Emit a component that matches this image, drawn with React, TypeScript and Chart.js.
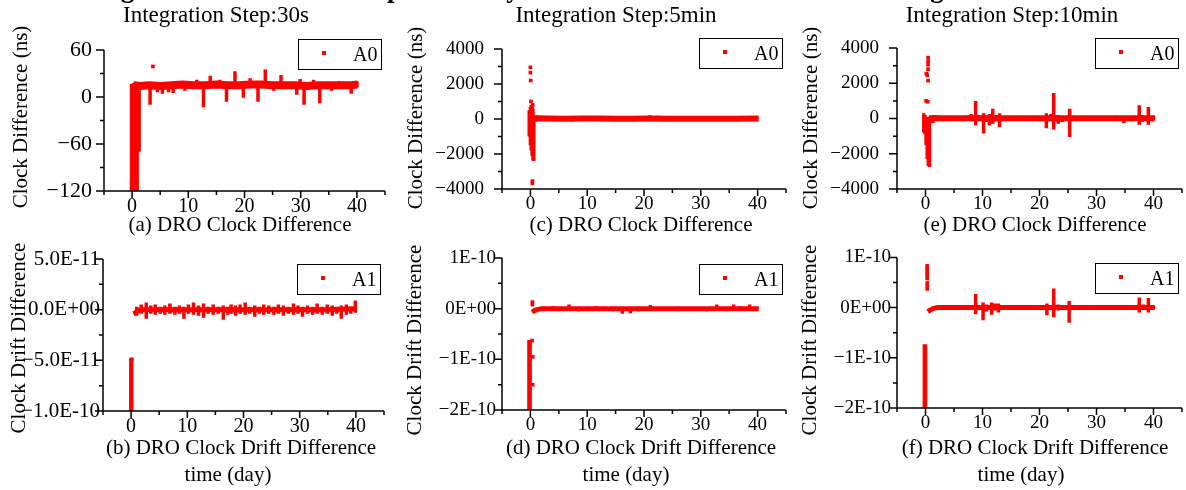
import React, { useEffect, useRef } from 'react';
import { Chart, registerables } from 'chart.js';

Chart.register(...registerables);

const FONT = "'Liberation Serif', 'Times New Roman', Times, serif";
const RED = '#ff0000';

// ---------- shared x axis (time in days) ----------
const xMin = -5;
const xMax = 45;
const xMajor = [0, 10, 20, 30, 40];
const xMinor = [-5, 5, 15, 25, 35, 45];
const xLabels = ['0', '10', '20', '30', '40'];

// ---------- texts ----------
const mainTitle = 'Clock Integration Results in Comparisons by Different Orbit Determination Integration Methods';
const stepTitles = ['Integration Step:30s', 'Integration Step:5min', 'Integration Step:10min'];
const topCaptions = ['(a) DRO Clock Difference', '(c) DRO Clock Difference', '(e) DRO Clock Difference'];
const bottomCaptions = ['(b) DRO Clock Drift Difference', '(d) DRO Clock Drift Difference', '(f) DRO Clock Drift Difference'];
const topYTitle = 'Clock Difference (ns)';
const bottomYTitle = 'Clock Drift Difference';
const xTitle = 'time (day)';
const topLegend = 'A0';
const bottomLegend = 'A1';

// ---------- panel (a): clock difference, step 30 s ----------
const aYMajor = [-120, -60, 0, 60];
const aYMinor = [-90, -30, 30];
const aYLabels = ['\u2212120', '\u221260', '0', '60'];
const aBandX = [0.2, 1.5, 3, 5, 7, 9, 11, 13, 15, 17, 19, 21, 23, 25, 27, 29, 31, 33, 35, 37, 39, 40.1];
const aBandY = [15, 14, 15, 14, 15, 16, 15, 15, 16, 15, 15, 16, 16, 15, 15, 15, 14, 15, 15, 15, 15, 16];
const aSpikeX = [-0.1, 0.1, 0.3, 0.5, 0.7, 0.9, 1.25, 3.2, 4.5, 5.4, 6.5, 7.3, 9.4, 11.5, 12.7, 13.9, 15.6, 16.8, 18.3, 19.8, 21.0, 22.4, 23.7, 25.2, 26.5, 29.3, 29.9, 30.6, 32.3, 33.4, 35.5, 36.8, 39.0, 40.0];
const aSpikeLo = [-125, -125, -125, -125, -125, -125, -70, -10, 6, 4, 6, 5, 8, 15, -13, 15, 15, -6, 15, -1, 15, -6, 15, 8, 15, 3, 15, -10, 15, -8, 8, 15, 4, 12];
const aSpikeHi = [17, 17, 18, 16, 16, 15, 12, 15, 15, 15, 15, 15, 15, 22, 15, 27, 22, 15, 33, 15, 24, 15, 35, 15, 28, 15, 23, 15, 22, 15, 15, 20, 15, 20];
const aDotX = [3.7];
const aDotY = [39];

// ---------- panel (c): clock difference, step 5 min ----------
const cYMajor = [-4000, -2000, 0, 2000, 4000];
const cYMinor = [-3000, -1000, 1000, 3000];
const cYLabels = ['\u22124000', '\u22122000', '0', '2000', '4000'];
const cBandX = [0.5, 1.5, 3, 6, 9, 12, 15, 18, 21, 24, 27, 30, 33, 36, 40.2];
const cBandY = [30, 40, 30, 20, 30, 30, 20, 20, 30, 20, 20, 20, 20, 20, 30];
const cSpikeX = [-0.2, 0.0, 0.15, 0.3, 0.45, 0.6, 1.0, 1.5, 3.8, 4.5, 7.3, 9.8, 10.3, 12.8, 21.0, 22.5, 25.2, 33.5, 37.5, 39.0];
const cSpikeLo = [-1000, -1500, -1800, -2100, -2350, -2400, -150, -100, -60, -60, -140, -60, -60, -60, -60, -60, -80, -60, -60, -60];
const cSpikeHi = [500, 700, 800, 700, 600, 200, 200, 180, 160, 140, 110, 160, 140, 170, 220, 190, 90, 110, 150, 120];
const cDotX = [0.0, 0.0, 0.05, 0.1, 0.4, 0.35, 0.35];
const cDotY = [2950, 2650, 2200, 1000, 800, -3550, -3680];

// ---------- panel (e): clock difference, step 10 min ----------
const eYMajor = [-4000, -2000, 0, 2000, 4000];
const eYMinor = [-3000, -1000, 1000, 3000];
const eYLabels = ['\u22124000', '\u22122000', '0', '2000', '4000'];
const eBandX = [0.6, 1.5, 3, 6, 9, 12, 15, 18, 21, 24, 27, 30, 33, 36, 40.2];
const eBandY = [20, 30, 20, 20, 20, 20, 20, 20, 20, 20, 20, 20, 20, 20, 20];
const eSpikeX = [-0.3, -0.1, 0.1, 0.3, 0.5, 0.7, 1.3, 4.0, 6.0, 7.2, 8.0, 8.8, 9.3, 10.2, 10.8, 11.2, 11.8, 12.5, 13.0, 19.6, 20.0, 21.2, 22.0, 22.5, 23.3, 24.0, 25.3, 26.0, 30.5, 33.5, 34.8, 36.0, 37.5, 38.0, 39.1, 40.0];
const eSpikeLo = [-800, -900, -1500, -2300, -2700, -2750, -250, -60, -100, -100, -150, -380, -100, -850, -200, -400, -300, -150, -500, -100, -150, -550, -150, -620, -300, -200, -1050, -100, -100, -100, -250, -150, -350, -200, -350, -100];
const eSpikeHi = [300, 200, 100, 100, 100, 100, 150, 80, 120, 150, 250, 1000, 200, 300, 150, 250, 550, 200, 300, 150, 100, 300, 250, 1450, 200, 150, 550, 100, 100, 150, 100, 150, 750, 200, 650, 150];
const eDotX = [0.45, 0.45, 0.45, 0.45, 0.15, 0.3, 0.45, 0.1, 0.4];
const eDotY = [3450, 3250, 3050, 2800, 2550, 2450, 2150, 1000, 950];

// ---------- panel (b): clock drift difference, step 30 s ----------
const bYMajor = [-1e-10, -5e-11, 0, 5e-11];
const bYMinor = [-7.5e-11, -2.5e-11, 2.5e-11];
const bYLabels = ['\u22121.0E-10', '\u22125.0E-11', '0.0E+00', '5.0E-11'];
const bBandX = [0.4, 0.8, 1.2, 2, 5, 10, 15, 20, 25, 30, 35, 40];
const bBandY = [-4e-12, -3e-12, -1e-12, 0, 0, 0, 0, 0, 0, 0, 0, 1e-12];
const bSpikeX = [-0.05, 0.12, 1.0, 1.8, 2.7, 3.5, 4.3, 5.2, 6.0, 6.9, 7.8, 8.6, 9.4, 10.2, 11.1, 12.0, 12.9, 13.7, 14.6, 15.5, 16.4, 17.2, 17.8, 18.6, 19.4, 20.3, 21.1, 22.0, 22.8, 23.6, 24.5, 25.4, 26.2, 27.1, 28.0, 28.9, 29.7, 30.5, 31.4, 32.3, 33.1, 34.0, 34.9, 35.8, 36.6, 37.4, 38.3, 39.1, 39.9];
const bSpikeLo = [-1.05e-10, -1.05e-10, -6e-12, -4e-12, -9e-12, -4e-12, -5e-12, -4e-12, -5e-12, -4e-12, -5e-12, -4e-12, -9e-12, -4e-12, -5e-12, -6e-12, -8e-12, -4e-12, -5e-12, -4e-12, -1e-11, -5e-12, -4e-12, -6e-12, -4e-12, -5e-12, -4e-12, -7e-12, -4e-12, -5e-12, -4e-12, -5e-12, -4e-12, -6e-12, -4e-12, -5e-12, -4e-12, -7e-12, -4e-12, -5e-12, -4e-12, -5e-12, -4e-12, -6e-12, -4e-12, -9e-12, -5e-12, -4e-12, -3e-12];
const bSpikeHi = [-4.8e-11, -4.8e-11, 3e-12, 5e-12, 7e-12, 4e-12, 5e-12, 3e-12, 4e-12, 6e-12, 3e-12, 4e-12, 3e-12, 5e-12, 7e-12, 4e-12, 6e-12, 3e-12, 5e-12, 3e-12, 4e-12, 3e-12, 5e-12, 4e-12, 5e-12, 7e-12, 3e-12, 4e-12, 3e-12, 5e-12, 4e-12, 3e-12, 5e-12, 4e-12, 3e-12, 6e-12, 4e-12, 3e-12, 4e-12, 3e-12, 6e-12, 3e-12, 5e-12, 4e-12, 3e-12, 4e-12, 5e-12, 3e-12, 9e-12];
const bDotX = [0.1];
const bDotY = [-4.9e-11];

// ---------- panel (d): clock drift difference, step 5 min ----------
const dYMajor = [-2e-10, -1e-10, 0, 1e-10];
const dYMinor = [-1.5e-10, -5e-11, 5e-11];
const dYLabels = ['\u22122E-10', '\u22121E-10', '0E+00', '1E-10'];
const dBandX = [0.3, 0.7, 1.2, 2, 5, 10, 15, 20, 25, 30, 35, 40.2];
const dBandY = [-7e-12, -4e-12, -2e-12, 0, 0, 0, 0, 0, 0, 0, 0, 0];
const dSpikeX = [-0.25, -0.05, 2.5, 4.0, 5.5, 6.8, 8.5, 10.0, 11.5, 13.0, 14.5, 16.2, 17.6, 19.0, 21.1, 22.5, 24.0, 26.0, 28.5, 31.0, 32.8, 34.5, 35.8, 37.0, 38.6, 39.8];
const dSpikeLo = [-2.05e-10, -2.05e-10, -4e-12, -3e-12, -4e-12, -3e-12, -5e-12, -4e-12, -3e-12, -4e-12, -5e-12, -1e-11, -9e-12, -5e-12, -4e-12, -4e-12, -4e-12, -4e-12, -4e-12, -5e-12, -4e-12, -3e-12, -3e-12, -4e-12, -3e-12, -3e-12];
const dSpikeHi = [-6.2e-11, -6.2e-11, 4e-12, 5e-12, 3e-12, 8e-12, 3e-12, 4e-12, 5e-12, 4e-12, 3e-12, 3e-12, 3e-12, 4e-12, 7e-12, 4e-12, 4e-12, 4e-12, 3e-12, 3e-12, 8e-12, 4e-12, 8e-12, 5e-12, 8e-12, 4e-12];
const dDotX = [0.3, 0.4, 0.4, 0.35, 0.35];
const dDotY = [-6.3e-11, -9.5e-11, -1.5e-10, 1.3e-11, 8e-12];

// ---------- panel (f): clock drift difference, step 10 min ----------
const fYMajor = [-2e-10, -1e-10, 0, 1e-10];
const fYMinor = [-1.5e-10, -5e-11, 5e-11];
const fYLabels = ['\u22122E-10', '\u22121E-10', '0E+00', '1E-10'];
const fBandX = [0.4, 0.8, 1.3, 2, 5, 10, 15, 20, 25, 30, 35, 40.2];
const fBandY = [-8e-12, -5e-12, -2e-12, 0, 0, 0, 0, 0, 0, 0, 0, 0];
const fSpikeX = [-0.2, 0.0, 4.0, 6.5, 7.8, 8.8, 9.4, 10.1, 10.7, 11.6, 12.2, 12.8, 17.9, 19.8, 21.3, 22.5, 23.3, 25.2, 28.7, 33.5, 35.2, 36.4, 37.5, 38.2, 39.1, 40.0];
const fSpikeLo = [-2.05e-10, -2.05e-10, -3e-12, -2e-12, -3e-12, -1.3e-11, -5e-12, -2.5e-11, -8e-12, -1.4e-11, -6e-12, -1e-11, -3e-12, -4e-12, -1.5e-11, -1.9e-11, -6e-12, -3e-11, -4e-12, -3e-12, -5e-12, -4e-12, -1e-11, -5e-12, -1e-11, -3e-12];
const fSpikeHi = [-7.3e-11, -7.3e-11, 5e-12, 3e-12, 4e-12, 2.7e-11, 5e-12, 1e-11, 6e-12, 1e-11, 8e-12, 8e-12, 4e-12, 4e-12, 8e-12, 3.8e-11, 6e-12, 1.3e-11, 3e-12, 3e-12, 5e-12, 5e-12, 2e-11, 6e-12, 1.9e-11, 4e-12];
const fDotX = [0.3, 0.3, 0.3, 0.3, 0.3, 0.3, 0.3, 0.3, 0.3];
const fDotY = [8.3e-11, 7.8e-11, 7.3e-11, 6.8e-11, 6.3e-11, 5.8e-11, 4.9e-11, 4.3e-11, 3.7e-11];

type PanelSpec = {
  left: number; top: number; width: number; height: number;
  area: { l: number; r: number; t: number; b: number };
  yPad: number; legendTop: number; yTickFont: number; xTickFont: number;
  yMin: number; yMax: number;
  yMajor: number[]; yMinor: number[]; yLabels: string[];
  bandX: number[]; bandY: number[]; bandWidth: number;
  spikeX: number[]; spikeLo: number[]; spikeHi: number[];
  dotX: number[]; dotY: number[];
  legend: string;
};

const panels: PanelSpec[] = [
  {
    left: 0, top: 0, width: 395, height: 240, area: { l: 104, r: 385, t: 50, b: 191 },
    yPad: 12, legendTop: 39, yTickFont: 22, xTickFont: 20, yMin: -120, yMax: 60,
    yMajor: aYMajor, yMinor: aYMinor, yLabels: aYLabels,
    bandX: aBandX, bandY: aBandY, bandWidth: 8,
    spikeX: aSpikeX, spikeLo: aSpikeLo, spikeHi: aSpikeHi, dotX: aDotX, dotY: aDotY, legend: topLegend,
  },
  {
    left: 395, top: 0, width: 395, height: 240, area: { l: 107, r: 392, t: 49, b: 189 },
    yPad: 18, legendTop: 38, yTickFont: 19, xTickFont: 19, yMin: -4000, yMax: 4000,
    yMajor: cYMajor, yMinor: cYMinor, yLabels: cYLabels,
    bandX: cBandX, bandY: cBandY, bandWidth: 6,
    spikeX: cSpikeX, spikeLo: cSpikeLo, spikeHi: cSpikeHi, dotX: cDotX, dotY: cDotY, legend: topLegend,
  },
  {
    left: 790, top: 0, width: 396, height: 240, area: { l: 107, r: 392, t: 48, b: 189 },
    yPad: 18, legendTop: 38, yTickFont: 19, xTickFont: 19, yMin: -4000, yMax: 4000,
    yMajor: eYMajor, yMinor: eYMinor, yLabels: eYLabels,
    bandX: eBandX, bandY: eBandY, bandWidth: 6,
    spikeX: eSpikeX, spikeLo: eSpikeLo, spikeHi: eSpikeHi, dotX: eDotX, dotY: eDotY, legend: topLegend,
  },
  {
    left: 0, top: 240, width: 395, height: 250, area: { l: 103, r: 384, t: 19, b: 171 },
    yPad: 3, legendTop: 24, yTickFont: 21, xTickFont: 20, yMin: -1e-10, yMax: 5e-11,
    yMajor: bYMajor, yMinor: bYMinor, yLabels: bYLabels,
    bandX: bBandX, bandY: bBandY, bandWidth: 5,
    spikeX: bSpikeX, spikeLo: bSpikeLo, spikeHi: bSpikeHi, dotX: bDotX, dotY: bDotY, legend: bottomLegend,
  },
  {
    left: 395, top: 240, width: 395, height: 250, area: { l: 107, r: 392, t: 18, b: 170 },
    yPad: 6, legendTop: 24, yTickFont: 19, xTickFont: 19, yMin: -2e-10, yMax: 1e-10,
    yMajor: dYMajor, yMinor: dYMinor, yLabels: dYLabels,
    bandX: dBandX, bandY: dBandY, bandWidth: 5,
    spikeX: dSpikeX, spikeLo: dSpikeLo, spikeHi: dSpikeHi, dotX: dDotX, dotY: dDotY, legend: bottomLegend,
  },
  {
    left: 790, top: 240, width: 396, height: 250, area: { l: 107, r: 392, t: 17, b: 168 },
    yPad: 6, legendTop: 23, yTickFont: 19, xTickFont: 19, yMin: -2e-10, yMax: 1e-10,
    yMajor: fYMajor, yMinor: fYMinor, yLabels: fYLabels,
    bandX: fBandX, bandY: fBandY, bandWidth: 5,
    spikeX: fSpikeX, spikeLo: fSpikeLo, spikeHi: fSpikeHi, dotX: fDotX, dotY: fDotY, legend: bottomLegend,
  },
];

function Panel({ spec }: { spec: PanelSpec }) {
  const ref = useRef<HTMLCanvasElement | null>(null);

  useEffect(() => {
    const canvas = ref.current;
    if (!canvas) return;
    const { area, width, height } = spec;

    const band = spec.bandX.map((x, i) => ({ x, y: spec.bandY[i] }));
    const spikes: { x: number; y: number | null }[] = [];
    spec.spikeX.forEach((x, i) => {
      spikes.push({ x, y: spec.spikeLo[i] }, { x, y: spec.spikeHi[i] }, { x, y: null });
    });
    const dots = spec.dotX.map((x, i) => ({ x, y: spec.dotY[i] }));

    const decor = {
      id: 'decor',
      afterDatasetsDraw(chart: any) {
        const { ctx, chartArea: ca } = chart;
        const xs = chart.scales.x;
        const ys = chart.scales.y;
        ctx.save();
        ctx.strokeStyle = '#000';
        ctx.lineWidth = 1.5;
        ctx.lineCap = 'butt';
        ctx.beginPath();
        ctx.moveTo(ca.left, ca.top);
        ctx.lineTo(ca.left, ca.bottom);
        ctx.moveTo(ca.left - 0.75, ca.bottom);
        ctx.lineTo(ca.right, ca.bottom);
        spec.yMajor.forEach((v) => {
          const p = ys.getPixelForValue(v);
          ctx.moveTo(ca.left - 8, p);
          ctx.lineTo(ca.left, p);
        });
        spec.yMinor.forEach((v) => {
          const p = ys.getPixelForValue(v);
          ctx.moveTo(ca.left - 4, p);
          ctx.lineTo(ca.left, p);
        });
        xMajor.forEach((v) => {
          const p = xs.getPixelForValue(v);
          ctx.moveTo(p, ca.bottom);
          ctx.lineTo(p, ca.bottom + 7);
        });
        xMinor.forEach((v) => {
          const p = xs.getPixelForValue(v);
          ctx.moveTo(p, ca.bottom);
          ctx.lineTo(p, ca.bottom + 4);
        });
        ctx.stroke();

        // legend box
        const bw = 83;
        const bh = 30;
        const bx = Math.round(ca.right - 4 - bw);
        const by = spec.legendTop;
        ctx.fillStyle = '#ffffff';
        ctx.fillRect(bx, by, bw, bh);
        ctx.lineWidth = 1;
        ctx.strokeStyle = '#000';
        ctx.strokeRect(bx + 0.5, by + 0.5, bw, bh);
        ctx.fillStyle = RED;
        ctx.fillRect(bx + 24, by + 12, 4, 4);
        ctx.fillStyle = '#000';
        ctx.font = `20px ${FONT}`;
        ctx.textAlign = 'left';
        ctx.textBaseline = 'alphabetic';
        ctx.fillText(spec.legend, bx + 55, by + 22);
        ctx.restore();
      },
    };

    const chart = new Chart(canvas, {
      type: 'scatter',
      data: {
        datasets: [
          {
            data: band,
            showLine: true,
            borderColor: RED,
            backgroundColor: RED,
            borderWidth: spec.bandWidth,
            pointRadius: 0,
            borderCapStyle: 'butt',
            borderJoinStyle: 'round',
            tension: 0,
            clip: 0,
          } as any,
          {
            data: spikes,
            showLine: true,
            spanGaps: false,
            borderColor: RED,
            backgroundColor: RED,
            borderWidth: 3.5,
            pointRadius: 0,
            borderCapStyle: 'butt',
            clip: 0,
          } as any,
          {
            data: dots,
            showLine: false,
            pointStyle: 'rect',
            pointRadius: 2.6,
            pointBorderWidth: 0,
            borderWidth: 0,
            backgroundColor: RED,
            borderColor: RED,
          } as any,
        ],
      },
      options: {
        animation: false,
        responsive: false,
        devicePixelRatio: 1,
        events: [],
        layout: { padding: { top: area.t, right: width - area.r, left: 0, bottom: 0 } },
        plugins: {
          legend: { display: false },
          title: { display: false },
          tooltip: { enabled: false },
        },
        scales: {
          x: {
            type: 'linear',
            position: 'bottom',
            min: xMin,
            max: xMax,
            afterBuildTicks: (s: any) => {
              s.ticks = xMajor.map((v) => ({ value: v }));
            },
            afterFit: (s: any) => {
              s.height = height - area.b;
            },
            grid: { display: false, drawTicks: false },
            border: { display: false },
            ticks: {
              autoSkip: false,
              maxRotation: 0,
              minRotation: 0,
              padding: 4,
              color: '#000',
              font: { family: FONT, size: spec.xTickFont },
              callback: (_v: any, i: number) => xLabels[i],
            },
          },
          y: {
            type: 'linear',
            position: 'left',
            min: spec.yMin,
            max: spec.yMax,
            afterBuildTicks: (s: any) => {
              s.ticks = spec.yMajor.map((v) => ({ value: v }));
            },
            afterFit: (s: any) => {
              s.width = area.l;
            },
            grid: { display: false, drawTicks: false },
            border: { display: false },
            ticks: {
              autoSkip: false,
              padding: spec.yPad,
              color: '#000',
              font: { family: FONT, size: spec.yTickFont },
              callback: (_v: any, i: number) => spec.yLabels[i],
            },
          },
        },
      } as any,
      plugins: [decor],
    });

    return () => {
      chart.destroy();
    };
  }, [spec]);

  return (
    <canvas
      ref={ref}
      width={spec.width}
      height={spec.height}
      style={{
        position: 'absolute',
        left: spec.left,
        top: spec.top,
        width: spec.width,
        height: spec.height,
        display: 'block',
      }}
    />
  );
}

const textBase: React.CSSProperties = {
  position: 'absolute',
  fontFamily: FONT,
  fontSize: 21,
  lineHeight: '21px',
  color: '#000',
  whiteSpace: 'nowrap',
};

function HText({ text, cx, top, size }: { text: string; cx: number; top: number; size?: number }) {
  const s = size || 21;
  return (
    <div style={{ ...textBase, fontSize: s, lineHeight: `${s}px`, left: cx, top, transform: 'translateX(-50%)' }}>
      {text}
    </div>
  );
}

function VText({ text, cx, cy }: { text: string; cx: number; cy: number }) {
  return (
    <div style={{ ...textBase, left: cx, top: cy, transform: 'translate(-50%, -50%) rotate(-90deg)' }}>{text}</div>
  );
}

const stepCenters = [216, 616, 1012];
const topCaptionCenters = [240, 641, 1035];
const bottomCaptionCenters = [241, 641, 1035];
const xTitleCenters = [228, 626, 1021];
const topYTitlePos = [[20, 117], [415, 118], [810, 118]];
const bottomYTitlePos = [[18, 338], [414, 340], [809, 340]];

export default function App() {
  return (
    <div
      style={{
        position: 'fixed',
        left: 0,
        top: 0,
        width: 1186,
        height: 490,
        background: '#ffffff',
        overflow: 'hidden',
      }}
    >
      {panels.map((p, i) => (
        <Panel key={i} spec={p} />
      ))}
      <div
        style={{
          position: 'absolute',
          left: 0,
          top: -24,
          fontFamily: FONT,
          fontWeight: 'bold',
          fontSize: 27,
          lineHeight: '24px',
          whiteSpace: 'nowrap',
          color: '#000',
        }}
      >
        {mainTitle}
      </div>
      {stepTitles.map((t, i) => (
        <HText key={'s' + i} text={t} cx={stepCenters[i]} top={3} size={23} />
      ))}
      {topCaptions.map((t, i) => (
        <HText key={'tc' + i} text={t} cx={topCaptionCenters[i]} top={214} />
      ))}
      {bottomCaptions.map((t, i) => (
        <HText key={'bc' + i} text={t} cx={bottomCaptionCenters[i]} top={437} />
      ))}
      {xTitleCenters.map((c, i) => (
        <HText key={'xt' + i} text={xTitle} cx={c} top={464} />
      ))}
      {topYTitlePos.map((p, i) => (
        <VText key={'ty' + i} text={topYTitle} cx={p[0]} cy={p[1]} />
      ))}
      {bottomYTitlePos.map((p, i) => (
        <VText key={'by' + i} text={bottomYTitle} cx={p[0]} cy={p[1]} />
      ))}
    </div>
  );
}
